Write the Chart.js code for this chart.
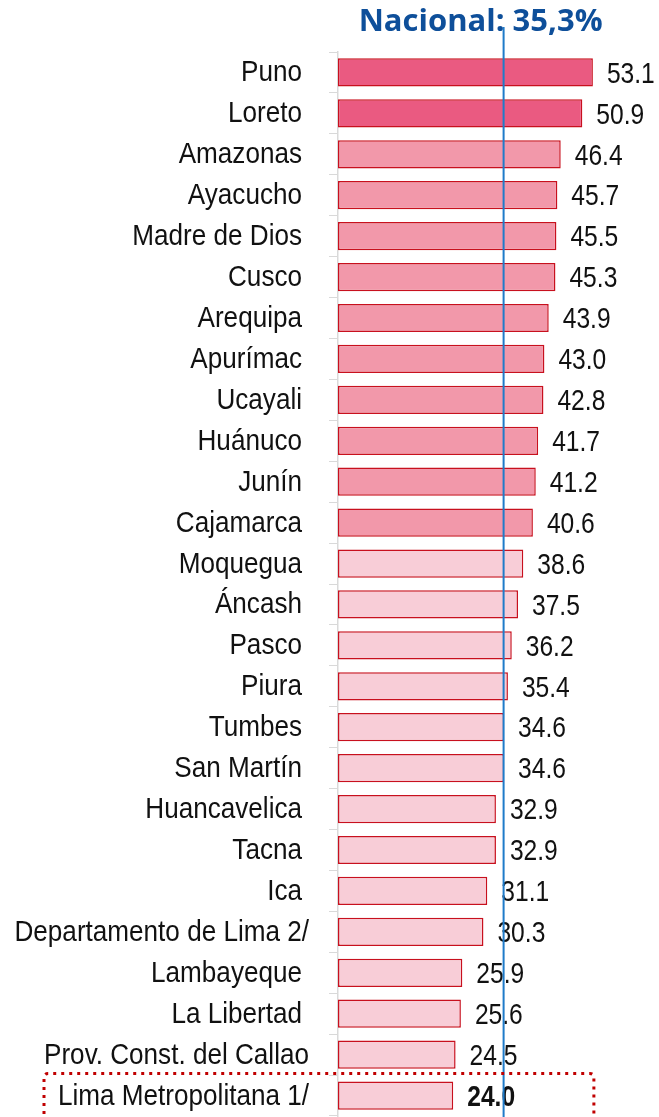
<!DOCTYPE html>
<html><head><meta charset="utf-8">
<script src="https://cdn.jsdelivr.net/npm/chart.js@4/dist/chart.umd.min.js"></script>
<style>html,body{margin:0;padding:0;background:#fff;}#wrap{width:659px;height:1117px;position:relative;}</style>
</head><body><div id="wrap"><canvas id="c" width="659" height="1117"></canvas></div>
<script>
const regions = ["Puno","Loreto","Amazonas","Ayacucho","Madre de Dios","Cusco","Arequipa","Apurímac","Ucayali","Huánuco","Junín","Cajamarca","Moquegua","Áncash","Pasco","Piura","Tumbes","San Martín","Huancavelica","Tacna","Ica","Departamento de Lima 2/","Lambayeque","La Libertad","Prov. Const. del Callao","Lima Metropolitana 1/"];
const values = [53.1,50.9,46.4,45.7,45.5,45.3,43.9,43.0,42.8,41.7,41.2,40.6,38.6,37.5,36.2,35.4,34.6,34.6,32.9,32.9,31.1,30.3,25.9,25.6,24.5,24.0];
const groups = [0,0,1,1,1,1,1,1,1,1,1,1,2,2,2,2,2,2,2,2,2,2,2,2,2,2];
const groupColors = ["#EA5A81","#F298AA","#F8CDD7"];
const nationalTitle = "Nacional: 35,3%";
const nationalLineAt = 34.5;
const highlighted = "Lima Metropolitana 1/";

function condensedText(ctx, text, x, y, sx, align){
  ctx.save();
  ctx.translate(x, y);
  ctx.scale(sx, 1);
  ctx.textAlign = align;
  ctx.fillText(text, 0, 0);
  ctx.restore();
}

const overlay = {
  id:'overlay',
  afterDatasetsDraw(chart){
    const ctx = chart.ctx, x = chart.scales.x, y = chart.scales.y, meta = chart.getDatasetMeta(0);
    ctx.save();
    ctx.textBaseline='middle'; ctx.fillStyle='#111';
    // category labels
    ctx.font = '29px "Liberation Sans", Arial, sans-serif';
    y.ticks.forEach((t,i)=>{
      const lab = y.getLabelForValue(t.value);
      const w = ctx.measureText(lab).width*0.9;
      const rx = w > 250 ? 309 : 302;
      condensedText(ctx, lab, rx, y.getPixelForValue(t.value)+1, 0.9, 'right');
    });
    // value labels
    meta.data.forEach((bar,i)=>{
      const bold = regions[i]===highlighted;
      ctx.font = (bold?'bold ':'')+'30px "Liberation Sans", Arial, sans-serif';
      condensedText(ctx, values[i].toFixed(1), bar.x+14, bar.y+2, 0.82, 'left');
    });
    // national line
    const lx = x.getPixelForValue(nationalLineAt);
    ctx.strokeStyle='#1F7BC9'; ctx.lineWidth=2;
    ctx.beginPath(); ctx.moveTo(lx,27); ctx.lineTo(lx,chart.height); ctx.stroke();
    // title
    ctx.font='bold 31px "Open Sans", sans-serif'; ctx.fillStyle='#0E4F9A';
    ctx.textAlign='center'; ctx.textBaseline='middle';
    ctx.fillText(nationalTitle, lx-23, 22);
    // dotted box around highlighted
    const hi = regions.indexOf(highlighted);
    const cy = y.getPixelForValue(hi);
    const top = cy-22, left=44, right = x.getPixelForValue(53.1)+1, r=4;
    ctx.strokeStyle='#C00000'; ctx.lineWidth=3; ctx.setLineDash([3,5]);
    ctx.beginPath();
    ctx.moveTo(left, chart.height+5);
    ctx.lineTo(left, top+r);
    ctx.quadraticCurveTo(left, top, left+r, top);
    ctx.lineTo(right-r, top);
    ctx.quadraticCurveTo(right, top, right, top+r);
    ctx.lineTo(right, chart.height+5);
    ctx.stroke();
    ctx.restore();
  }
};

new Chart(document.getElementById('c'),{
  type:'bar',
  data:{labels:regions,datasets:[{data:values,
    backgroundColor:groups.map(g=>groupColors[g]),
    borderColor:'#C8101E',borderWidth:1.5,borderSkipped:false,
    barPercentage:0.69,categoryPercentage:1}]},
  options:{
    indexAxis:'y',responsive:false,animation:false,devicePixelRatio:1,
    layout:{padding:{top:52,right:33,bottom:1,left:0}},
    plugins:{legend:{display:false},tooltip:{enabled:false},title:{display:false}},
    scales:{
      x:{display:false,min:0,max:60},
      y:{
        afterFit(s){s.width=338; s.paddingTop=0; s.paddingBottom=0;},
        grid:{drawOnChartArea:false,drawTicks:true,tickLength:9,color:'#D9D9D9',offset:true},
        border:{display:true,color:'#D9D9D9',width:1.5},
        ticks:{display:false}
      }
    }
  },
  plugins:[overlay]
});
</script></body></html>
